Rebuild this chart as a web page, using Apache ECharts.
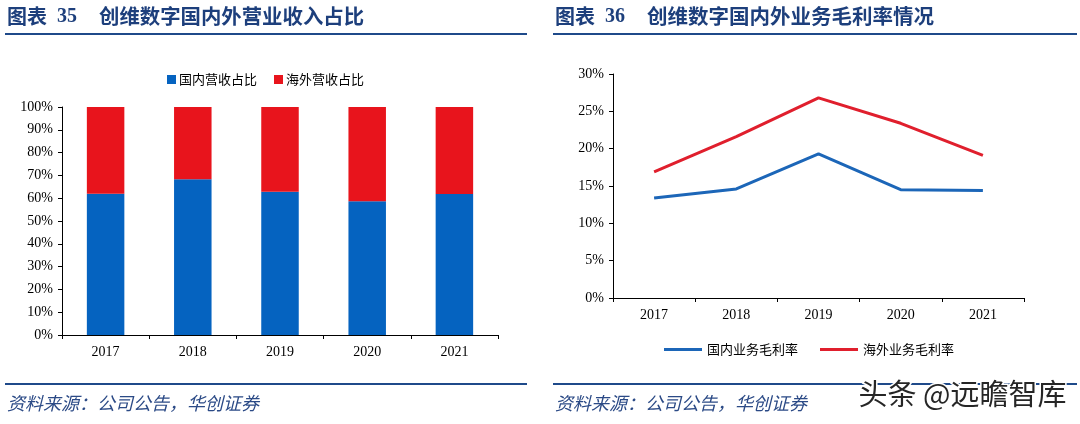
<!DOCTYPE html>
<html><head><meta charset="utf-8">
<script src="https://cdn.jsdelivr.net/npm/echarts@6/dist/echarts.min.js"></script>
<style>html,body{margin:0;padding:0;background:#fff}#c{width:1080px;height:424px}</style>
</head><body><div id="c"></div>
<script>
const years = ['2017','2018','2019','2020','2021'];
const domesticShare = [61.9, 68.3, 62.8, 58.7, 61.8];
const overseasShare = [38.1, 31.7, 37.2, 41.3, 38.2];
const domesticMargin = [13.4, 14.6, 19.3, 14.5, 14.4];
const overseasMargin = [16.9, 21.6, 26.8, 23.4, 19.1];
const shareTicks = [0,10,20,30,40,50,60,70,80,90,100];
const marginTicks = [0,5,10,15,20,25,30];

const chart = echarts.init(document.getElementById('c'), null, {renderer:'canvas'});
const serif = '"Liberation Serif","DejaVu Serif",serif';
const cjk = '"Noto Sans CJK SC","Noto Sans",sans-serif';
const titleColor = '#1d3f7c';
const axisLine = {show:true, lineStyle:{color:'#000', width:1}};

chart.setOption({
  animation:false,
  graphic:[
    {type:'text', left:7, top:6, style:{text:'图表', font:'bold 20px '+cjk, fill:titleColor}},
    {type:'text', left:57, top:7, style:{text:'35', font:'bold 20px '+serif, fill:titleColor}},
    {type:'text', left:99, top:6, style:{text:'创维数字国内外营业收入占比', font:'bold 20.4px '+cjk, fill:titleColor}},
    {type:'rect', shape:{x:5, y:33, width:522, height:2}, style:{fill:'#1f4a8a'}},
    {type:'text', left:555, top:6, style:{text:'图表', font:'bold 20px '+cjk, fill:titleColor}},
    {type:'text', left:605, top:7, style:{text:'36', font:'bold 20px '+serif, fill:titleColor}},
    {type:'text', left:647, top:6, style:{text:'创维数字国内外业务毛利率情况', font:'bold 20.5px '+cjk, fill:titleColor}},
    {type:'rect', shape:{x:553, y:33, width:524, height:2}, style:{fill:'#1f4a8a'}},
    {type:'rect', shape:{x:5, y:383, width:522, height:2}, style:{fill:'#1f4a8a'}},
    {type:'rect', shape:{x:553, y:383, width:524, height:2}, style:{fill:'#1f4a8a'}},
    {type:'text', left:7, top:394, style:{text:'资料来源：公司公告，华创证券', font:'italic 18px '+cjk, fill:'#2b4a86'}},
    {type:'text', left:555, top:394, style:{text:'资料来源：公司公告，华创证券', font:'italic 18px '+cjk, fill:'#2b4a86'}},
    {type:'text', left:857, top:378, z:100, style:{text:'头条 @远瞻智库', font:'29px '+cjk, fill:'#262626', stroke:'#fff', lineWidth:3}}
  ],
  legend:[
    {left:162, top:68, itemWidth:9, itemHeight:9, itemGap:17, icon:'rect',
     textStyle:{fontFamily:cjk, fontSize:13, color:'#000', padding:[0,0,0,-2]},
     data:['国内营收占比','海外营收占比']},
    {left:659, top:338, itemWidth:38, itemHeight:3, itemGap:22, icon:'rect',
     textStyle:{fontFamily:cjk, fontSize:13, color:'#000'},
     data:['国内业务毛利率','海外业务毛利率']}
  ],
  grid:[
    {left:62, right:582, top:107, bottom:89, containLabel:false},
    {left:613, right:56, top:74, bottom:126, containLabel:false}
  ],
  xAxis:[
    {type:'category', gridIndex:0, data:years, axisLine, axisTick:{show:true, length:4, lineStyle:{color:'#000'}},
     axisLabel:{fontFamily:serif, fontSize:14, color:'#000', margin:10}},
    {type:'category', gridIndex:1, data:years, axisLine, axisTick:{show:true, length:4, lineStyle:{color:'#000'}},
     axisLabel:{fontFamily:serif, fontSize:14, color:'#000', margin:10}}
  ],
  yAxis:[
    {type:'value', gridIndex:0, min:shareTicks[0], max:shareTicks[shareTicks.length-1], interval:10,
     axisLine, axisTick:{show:true, length:4, lineStyle:{color:'#000'}}, splitLine:{show:false},
     axisLabel:{fontFamily:serif, fontSize:14, color:'#000', margin:9, formatter:v=>v+'%'}},
    {type:'value', gridIndex:1, min:marginTicks[0], max:marginTicks[marginTicks.length-1], interval:5,
     axisLine, axisTick:{show:true, length:4, lineStyle:{color:'#000'}}, splitLine:{show:false},
     axisLabel:{fontFamily:serif, fontSize:14, color:'#000', margin:9, formatter:v=>v+'%'}}
  ],
  series:[
    {name:'国内营收占比', type:'bar', stack:'s', xAxisIndex:0, yAxisIndex:0, barWidth:'43%', data:domesticShare, itemStyle:{color:'#0563c0'}},
    {name:'海外营收占比', type:'bar', stack:'s', xAxisIndex:0, yAxisIndex:0, barWidth:'43%', data:overseasShare, itemStyle:{color:'#e8141c'}},
    {name:'国内业务毛利率', type:'line', xAxisIndex:1, yAxisIndex:1, data:domesticMargin, symbol:'none', lineStyle:{width:3, color:'#1c66b8'}, itemStyle:{color:'#1c66b8'}},
    {name:'海外业务毛利率', type:'line', xAxisIndex:1, yAxisIndex:1, data:overseasMargin, symbol:'none', lineStyle:{width:3, color:'#e01f2d'}, itemStyle:{color:'#e01f2d'}}
  ]
});
</script></body></html>
